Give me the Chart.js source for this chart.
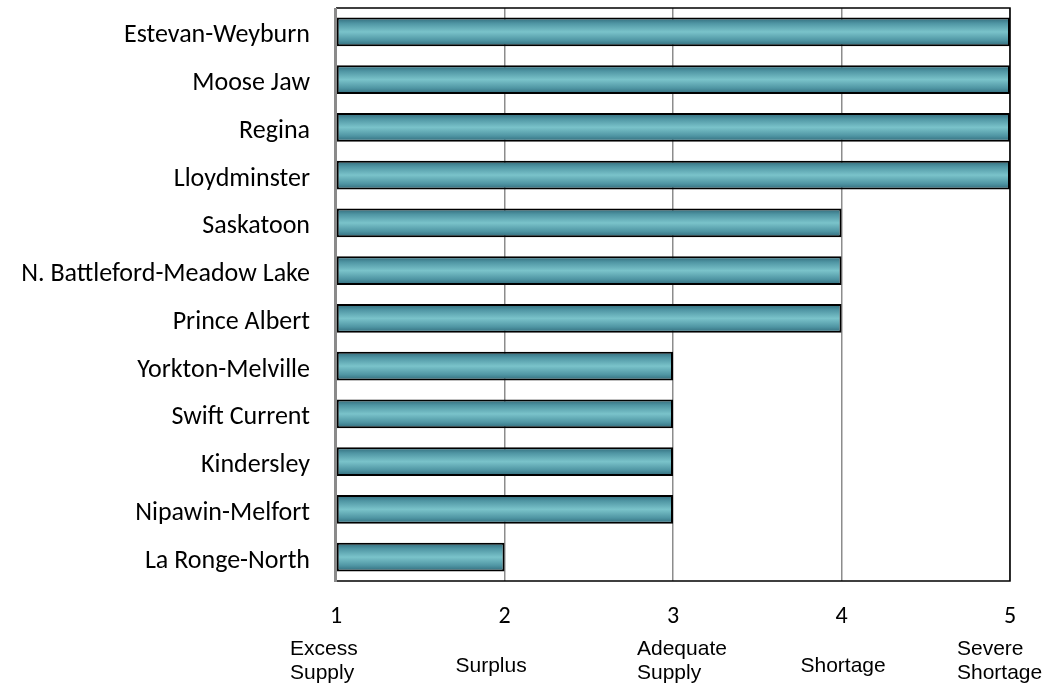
<!DOCTYPE html>
<html>
<head>
<meta charset="utf-8">
<script src="https://cdn.jsdelivr.net/npm/chart.js@4/dist/chart.umd.min.js"></script>
<style>
  html, body { margin: 0; padding: 0; background: #fff; }
  #wrap { width: 1044px; height: 684px; }
</style>
</head>
<body>
<div id="wrap"><canvas id="chart"></canvas></div>
<script>
const regions = ['Estevan-Weyburn', 'Moose Jaw', 'Regina', 'Lloydminster', 'Saskatoon',
  'N. Battleford-Meadow Lake', 'Prince Albert', 'Yorkton-Melville', 'Swift Current',
  'Kindersley', 'Nipawin-Melfort', 'La Ronge-North']
const ratings = [5, 5, 5, 5, 4, 4, 4, 3, 3, 3, 3, 2]
const ratingTicks = [1, 2, 3, 4, 5]
const ratingNames = [['Excess', 'Supply'], ['Surplus'], ['Adequate', 'Supply'], ['Shortage'], ['Severe', 'Shortage']]

const BAR_PCT = 0.6

// gradient for each bar, dark at the edges and light in the middle
function barFill(ctx){
  const chart = ctx.chart
  const y = chart.scales.y
  if (!chart.chartArea || !y) return '#5fa7b3'
  const step = Math.abs(y.getPixelForValue(1) - y.getPixelForValue(0))
  const c = y.getPixelForValue(ctx.dataIndex)
  const h = step * BAR_PCT / 2
  const g = chart.ctx.createLinearGradient(0, c - h, 0, c + h)
  g.addColorStop(0, '#2f6878')
  g.addColorStop(0.2, '#4f95a3')
  g.addColorStop(0.5, '#7ac3ca')
  g.addColorStop(0.8, '#4f95a3')
  g.addColorStop(1, '#2f6878')
  return g
}

const framePlugin = {
  id: 'frame',
  afterDatasetsDraw(chart){
    const { ctx, chartArea: a } = chart
    ctx.save()
    ctx.strokeStyle = '#000'
    ctx.lineWidth = 1.5
    ctx.beginPath()
    ctx.moveTo(a.left, a.top)
    ctx.lineTo(a.right, a.top)
    ctx.lineTo(a.right, a.bottom)
    ctx.lineTo(a.left, a.bottom)
    ctx.stroke()
    ctx.strokeStyle = '#8a8a8a'
    ctx.lineWidth = 3
    ctx.beginPath()
    ctx.moveTo(a.left - 0.5, a.top)
    ctx.lineTo(a.left - 0.5, a.bottom + 1)
    ctx.stroke()
    ctx.restore()
  }
}

// text under the numbers
const namesPlugin = {
  id: 'names',
  afterDraw(chart){
    const { ctx } = chart
    const x = chart.scales.x
    const shift = [-46, -49, -36, -41, -53] // 左邊起點
    ctx.save()
    ctx.fillStyle = '#000'
    ctx.font = '21px "Liberation Sans", Arial, sans-serif'
    ctx.textAlign = 'left'
    ctx.textBaseline = 'alphabetic'
    ratingNames.forEach((lines, i) => {
      const px = x.getPixelForValue(ratingTicks[i]) + shift[i]
      if (lines.length === 1) {
        ctx.fillText(lines[0], px, 672)
      } else {
        ctx.fillText(lines[0], px, 655)
        ctx.fillText(lines[1], px, 679)
      }
    })
    ctx.restore()
  }
}

new Chart(document.getElementById('chart'), {
  type: 'bar',
  data: {
    labels: regions,
    datasets: [{
      data: ratings,
      base: 1,
      backgroundColor: barFill,
      borderColor: '#000',
      borderWidth: 2,
      borderSkipped: false,
      barPercentage: BAR_PCT,
      categoryPercentage: 1
    }]
  },
  options: {
    indexAxis: 'y',
    responsive: true,
    maintainAspectRatio: false,
    animation: false,
    layout: { padding: { top: 8, right: 34, left: 0, bottom: 0 } },
    plugins: {
      legend: { display: false },
      tooltip: { enabled: false }
    },
    scales: {
      x: {
        min: 1,
        max: 5,
        afterFit: s => { s.height = 103 },
        ticks: {
          stepSize: 1,
          color: '#000',
          padding: 22,
          font: { family: 'Carlito, Lato, sans-serif', size: 24 }
        },
        grid: { color: '#8c8c8c', lineWidth: 1.5, drawTicks: false },
        border: { display: false }
      },
      y: {
        afterFit: s => { s.width = 336; s.paddingTop = 0; s.paddingBottom = 0 },
        ticks: {
          color: '#000',
          padding: 26,
          labelOffset: 4,
          font: { family: 'Carlito, Lato, sans-serif', size: 26 }
        },
        grid: { display: false, drawTicks: false },
        border: { display: false }
      }
    }
  },
  plugins: [framePlugin, namesPlugin]
})
</script>
</body>
</html>
